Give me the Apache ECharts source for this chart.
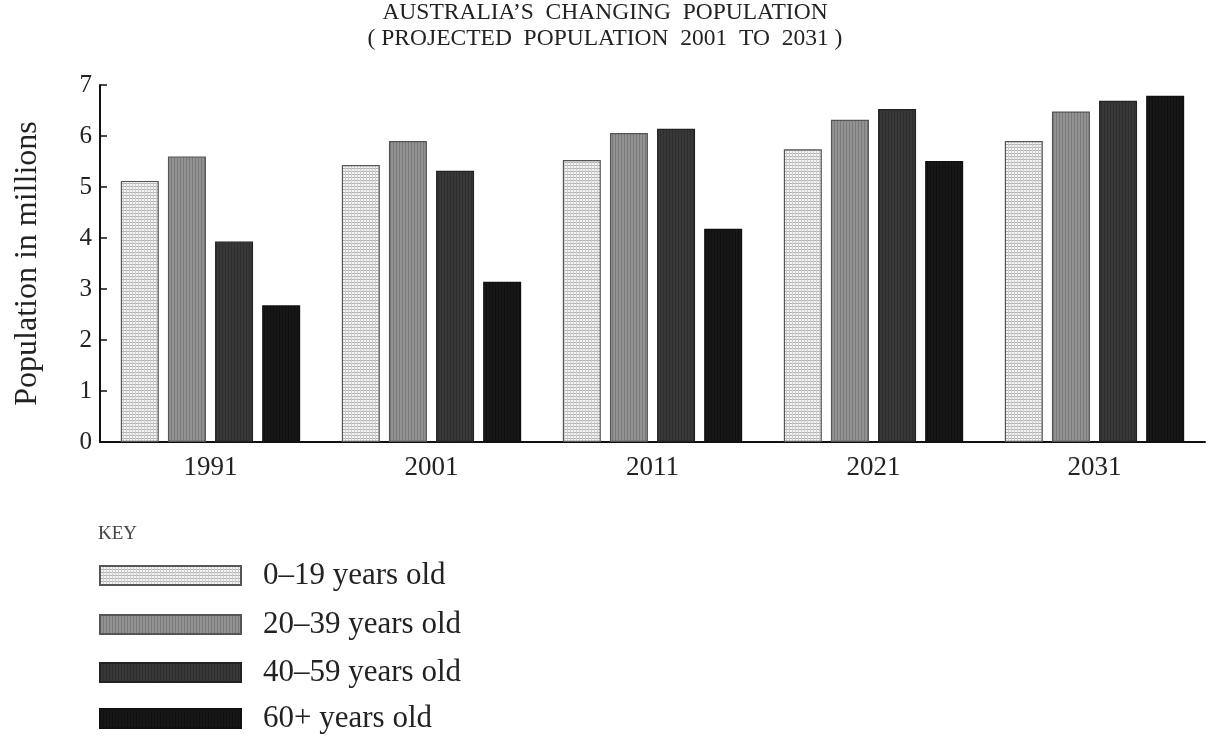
<!DOCTYPE html>
<html><head><meta charset="utf-8">
<script src="https://cdn.jsdelivr.net/npm/echarts@6/dist/echarts.min.js"></script>
<style>html,body{margin:0;padding:0;background:#fff}#c{width:1210px;height:738px}</style>
</head><body><div id="c"></div>
<script>
const categories = ['1991', '2001', '2011', '2021', '2031'];
const seriesNames = ['0–19 years old', '20–39 years old', '40–59 years old', '60+ years old'];
const age0_19 = [5.12, 5.43, 5.53, 5.74, 5.9];
const age20_39 = [5.6, 5.9, 6.06, 6.32, 6.48];
const age40_59 = [3.93, 5.32, 6.14, 6.53, 6.69];
const age60plus = [2.68, 3.14, 4.18, 5.51, 6.79];
const yTicks = [0, 1, 2, 3, 4, 5, 6, 7];

function pat(bg, hLine, vLine, size) {
  const c = document.createElement('canvas');
  c.width = size; c.height = size;
  const g = c.getContext('2d');
  g.fillStyle = bg; g.fillRect(0, 0, size, size);
  if (hLine) { g.fillStyle = hLine; g.fillRect(0, 0, size, 1); }
  if (vLine) { g.fillStyle = vLine; g.fillRect(0, 0, 1, size); }
  return { image: c, repeat: 'repeat' };
}
const fills = [
  pat('#f4f4f4', '#b0b0b0', '#cfcfcf', 3),
  pat('#929292', null, '#7a7a7a', 3),
  pat('#383838', null, '#2e2e2e', 3),
  pat('#171717', null, '#101010', 3)
];
const borders = ['#555', '#555', '#222', '#111'];
const values = [age0_19, age20_39, age40_59, age60plus];
const legendRowCenters = [576, 625, 673, 719];
const serif = '"Liberation Serif", "DejaVu Serif", serif';

const chart = echarts.init(document.getElementById('c'));
chart.setOption({
  backgroundColor: '#fff',
  animation: false,
  title: {
    text: 'AUSTRALIA’S  CHANGING  POPULATION\n( PROJECTED  POPULATION  2001  TO  2031 )',
    left: 'center', top: 0, padding: 0,
    textStyle: { fontFamily: serif, fontSize: 23.5, fontWeight: 'normal', color: '#222', lineHeight: 26 }
  },
  graphic: [{
    type: 'text', left: 98, top: 525,
    style: { text: 'KEY', fontFamily: serif, fontSize: 19, fill: '#444' }
  }],
  legend: seriesNames.map((n, i) => ({
    orient: 'vertical', left: 99, top: legendRowCenters[i] - 16, padding: 0,
    itemWidth: 141, itemHeight: 19,
    icon: 'rect',
    textStyle: { fontFamily: serif, fontSize: 31, color: '#222', padding: [0, 0, 0, 17] },
    data: [n]
  })),
  grid: { left: 100, right: 5, top: 85, bottom: 296, containLabel: false },
  xAxis: {
    type: 'category', data: categories,
    axisLine: { lineStyle: { color: '#111', width: 2 } },
    axisTick: { inside: true, length: 7, lineStyle: { color: '#111', width: 1.5 } },
    axisLabel: { fontFamily: serif, fontSize: 27, color: '#222', margin: 12 }
  },
  yAxis: {
    type: 'value', min: yTicks[0], max: yTicks[yTicks.length - 1], interval: 1,
    name: 'Population in millions', nameLocation: 'middle', nameGap: 56,
    nameTextStyle: { fontFamily: serif, fontSize: 32, color: '#222' },
    splitLine: { show: false },
    axisLine: { show: true, lineStyle: { color: '#111', width: 2 } },
    axisTick: { show: true, inside: true, length: 7, lineStyle: { color: '#111', width: 1.5 } },
    axisLabel: { fontFamily: serif, fontSize: 25, color: '#222', margin: 8 }
  },
  series: seriesNames.map((n, i) => ({
    name: n, type: 'bar', data: values[i],
    barWidth: 38, barGap: '24%',
    itemStyle: { color: fills[i], borderColor: borders[i], borderWidth: 1.2 }
  }))
});
</script></body></html>
